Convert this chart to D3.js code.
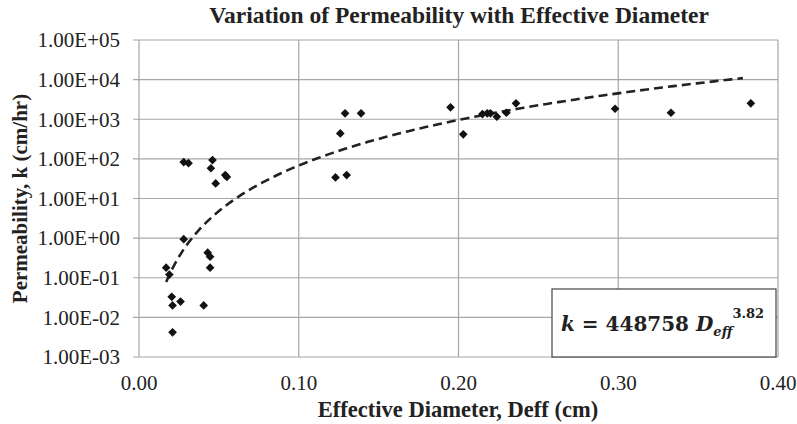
<!DOCTYPE html>
<html>
<head>
<meta charset="utf-8">
<script src="https://cdn.jsdelivr.net/npm/d3@7/dist/d3.min.js"></script>
<style>
  body { margin: 0; background: #fff; }
  text { font-family: "Liberation Serif", "Times New Roman", serif; fill: #222; }
  .grid line { stroke: #a6a6a6; stroke-width: 1.2px; }
</style>
</head>
<body>
<svg width="797" height="424"></svg>
<script>
// effective diameter (cm) and permeability (cm/hr)
var deff = [0.028, 0.031, 0.046, 0.045, 0.054, 0.055, 0.048, 0.028, 0.043, 0.0445,
            0.0445, 0.017, 0.019, 0.0205, 0.021, 0.026, 0.0405, 0.021, 0.129, 0.139,
            0.126, 0.123, 0.130, 0.195, 0.203, 0.215, 0.218, 0.220, 0.224, 0.230,
            0.236, 0.298, 0.333, 0.383];
var perm = [83, 78, 93, 58, 39, 35, 24, 0.94, 0.43, 0.34,
            0.18, 0.18, 0.12, 0.033, 0.020, 0.025, 0.020, 0.0042, 1410, 1410,
            440, 34, 39, 2000, 416, 1350, 1410, 1410, 1160, 1460,
            2520, 1840, 1460, 2520];

// power trendline shown in the chart: k = a * D^b
var trendA = 448758;
var trendB = 3.82;
var trendRange = [0.017, 0.378];

var xTicks = [0, 0.1, 0.2, 0.3, 0.4];
var yTicks = [1e-3, 1e-2, 1e-1, 1e0, 1e1, 1e2, 1e3, 1e4, 1e5];

var svg = d3.select("svg");
var plotL = 139, plotR = 778, plotT = 40, plotB = 357;

var x = d3.scaleLinear().domain([0, 0.4]).range([plotL, plotR]);
var y = d3.scaleLog().domain([1e-3, 1e5]).range([plotB, plotT]);

function expLabel(v) {
  var e = Math.round(Math.log10(v));
  var s = Math.abs(e) < 10 ? "0" + Math.abs(e) : "" + Math.abs(e);
  return "1.00E" + (e < 0 ? "-" : "+") + s;
}

// grid
var grid = svg.append("g").attr("class", "grid");
grid.selectAll(".h").data(yTicks).enter().append("line")
  .attr("x1", plotL - 6).attr("x2", plotR)
  .attr("y1", function(d) { return y(d); })
  .attr("y2", function(d) { return y(d); });
grid.selectAll(".v").data(xTicks).enter().append("line")
  .attr("x1", function(d) { return x(d); })
  .attr("x2", function(d) { return x(d); })
  .attr("y1", plotT).attr("y2", plotB);

// tick labels
svg.append("g").selectAll("text").data(yTicks).enter().append("text")
  .attr("x", 120)
  .attr("y", function(d) { return y(d); })
  .attr("dy", "0.35em")
  .attr("text-anchor", "end")
  .style("font-size", "21px")
  .text(expLabel);

svg.append("g").selectAll("text").data(xTicks).enter().append("text")
  .attr("x", function(d) { return x(d); })
  .attr("y", 390)
  .attr("text-anchor", "middle")
  .style("font-size", "21px")
  .text(d3.format(".2f"));

// trendline
var trendPts = d3.range(0, 101).map(function(i) {
  var d = trendRange[0] + (trendRange[1] - trendRange[0]) * i / 100;
  return [d, trendA * Math.pow(d, trendB)];
});
svg.append("path")
  .datum(trendPts)
  .attr("fill", "none")
  .attr("stroke", "#222")
  .attr("stroke-width", 2.6)
  .attr("stroke-dasharray", "9,5")
  .attr("d", d3.line()
    .x(function(d) { return x(d[0]); })
    .y(function(d) { return y(d[1]); }));

// points
svg.append("g").selectAll("path").data(deff).enter().append("path")
  .attr("d", d3.symbol().type(d3.symbolDiamond2).size(48))
  .attr("transform", function(d, i) { return "translate(" + x(d) + "," + y(perm[i]) + ")"; })
  .attr("fill", "#111");

// titles
svg.append("text")
  .attr("x", 459).attr("y", 23)
  .attr("text-anchor", "middle")
  .style("font-size", "23.5px").style("font-weight", "bold")
  .text("Variation of Permeability with Effective Diameter");

svg.append("text")
  .attr("x", 458).attr("y", 417)
  .attr("text-anchor", "middle")
  .style("font-size", "22.5px").style("font-weight", "bold")
  .text("Effective Diameter, Deff (cm)");

svg.append("text")
  .attr("transform", "translate(27," + ((plotT + plotB) / 2) + ") rotate(-90)")
  .attr("text-anchor", "middle")
  .style("font-size", "21px").style("font-weight", "bold")
  .text("Permeability, k (cm/hr)");

// equation box
svg.append("rect")
  .attr("x", 552).attr("y", 289).attr("width", 224).attr("height", 68)
  .attr("fill", "#fff").attr("stroke", "#444").attr("stroke-width", 1.2);

var eq = svg.append("text")
  .attr("x", 561).attr("y", 331)
  .style("font-family", "'DejaVu Serif', serif")
  .style("font-size", "20px").style("font-weight", "bold");
eq.append("tspan").style("font-style", "italic").text("k");
eq.append("tspan").text(" = " + trendA + " ");
eq.append("tspan").style("font-style", "italic").text("D");
eq.append("tspan").style("font-style", "italic").style("font-size", "13px").attr("dy", 5).text("eff");
eq.append("tspan").style("font-size", "13px").attr("dy", -18).text(trendB.toFixed(2));
</script>
</body>
</html>
